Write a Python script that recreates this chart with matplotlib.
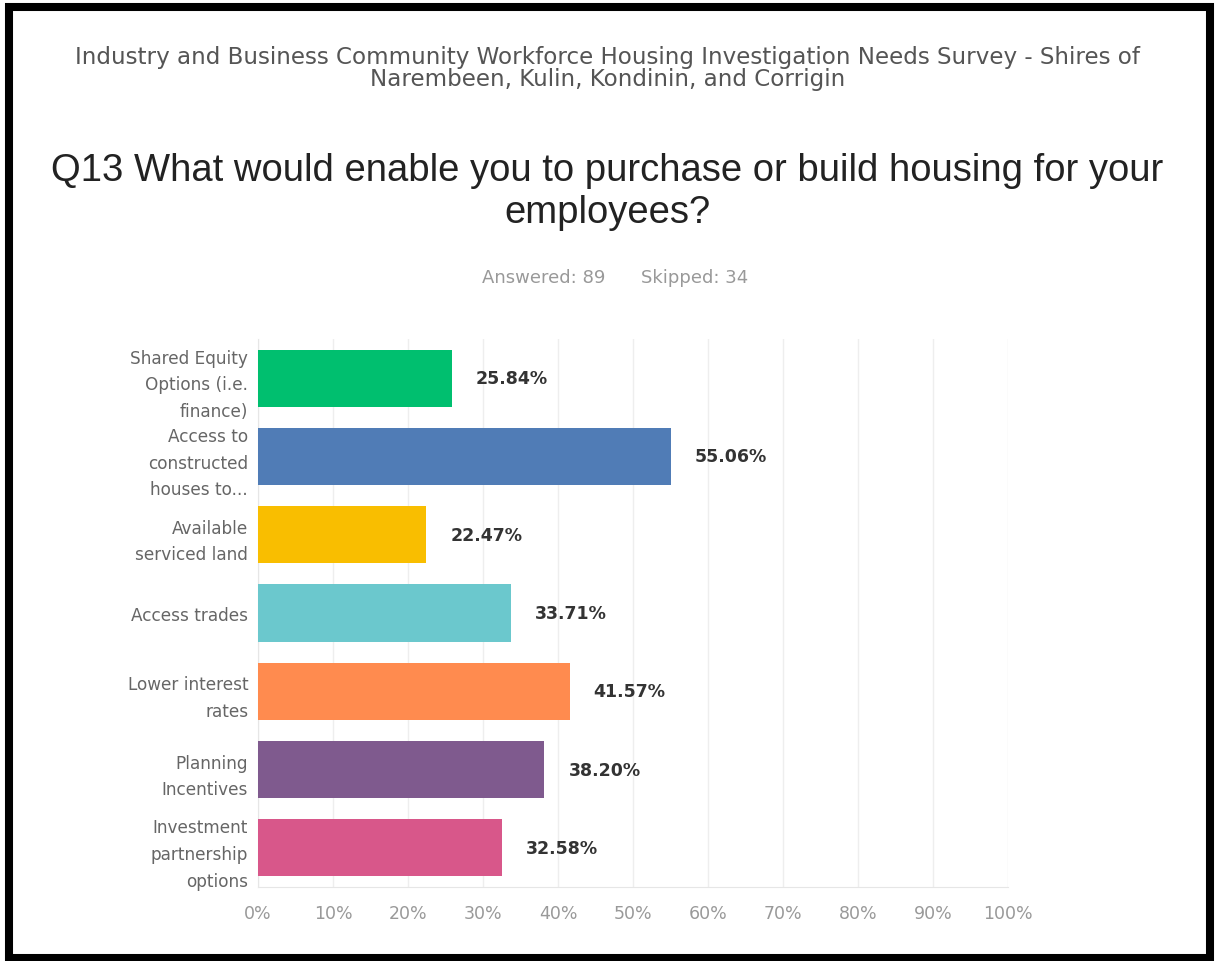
import matplotlib
matplotlib.use("Agg")
import matplotlib.pyplot as plt
from matplotlib.patches import Rectangle

# risposte alla Q13 (percentuale sui 89 rispondenti)
categorie = ["Shared Equity\nOptions (i.e.\nfinance)",
             "Access to\nconstructed\nhouses to...",
             "Available\nserviced land",
             "Access trades",
             "Lower interest\nrates",
             "Planning\nIncentives",
             "Investment\npartnership\noptions"]
percentuali = [25.84, 55.06, 22.47, 33.71, 41.57, 38.20, 32.58]
colori = ["#00BF6F", "#507CB6", "#F9BE00", "#6BC8CD",
          "#FF8B4F", "#7F5A8E", "#D8578A"]
tick_x = [0, 10, 20, 30, 40, 50, 60, 70, 80, 90, 100]

fig = plt.figure(figsize=(12.15, 9.62), dpi=100)
ax = fig.add_axes([0.2123, 0.0770, 0.6173, 0.5696])

pos = list(range(len(categorie)))
ax.barh(pos, percentuali, height=0.73, color=colori, zorder=3)
for y, v in zip(pos, percentuali):
    ax.text(v + 3.2, y, f"{v:.2f}%", va="center", ha="left",
            fontsize=12.5, color="#333333", fontweight="semibold")

ax.set_xlim(0, 100)
ax.set_ylim(len(categorie) - 0.5, -0.5)
ax.set_xticks(tick_x)
ax.set_xticklabels([f"{t}%" for t in tick_x], color="#999999", fontsize=12.5)
ax.set_yticks(pos)
ax.set_yticklabels(categorie, color="#666666", fontsize=12.2,
                   linespacing=1.62)
ax.tick_params(axis="both", length=0)
ax.tick_params(axis="x", pad=12)
ax.tick_params(axis="y", pad=7)
ax.grid(axis="x", color="#EEEEEE", lw=1, zorder=0)
for lato in ["top", "right"]:
    ax.spines[lato].set_visible(False)
ax.spines["left"].set_color("#E6E6E6")
ax.spines["bottom"].set_color("#E6E6E6")

fig.text(0.5, 0.9288, "Industry and Business Community Workforce Housing "
         "Investigation Needs Survey - Shires of\nNarembeen, Kulin, Kondinin, "
         "and Corrigin", ha="center", va="center", fontsize=16.6,
         family="DejaVu Sans", color="#555555", linespacing=0.98)
fig.text(0.5, 0.800, "Q13 What would enable you to purchase or build housing "
         "for your\nemployees?", ha="center", va="center", fontsize=27.5,
         family="Liberation Sans", color="#222222", linespacing=1.22)
fig.text(0.4477, 0.711, "Answered: 89", ha="center", va="center",
         fontsize=13, color="#999999")
fig.text(0.572, 0.711, "Skipped: 34", ha="center", va="center",
         fontsize=13, color="#999999")

# cornice nera attorno a tutta la figura
fig.patches.append(Rectangle((0.0074, 0.0036), 0.9885, 0.9886,
                             transform=fig.transFigure, fill=False,
                             edgecolor="black", lw=5.8))

fig.savefig("out.png", dpi=100)
